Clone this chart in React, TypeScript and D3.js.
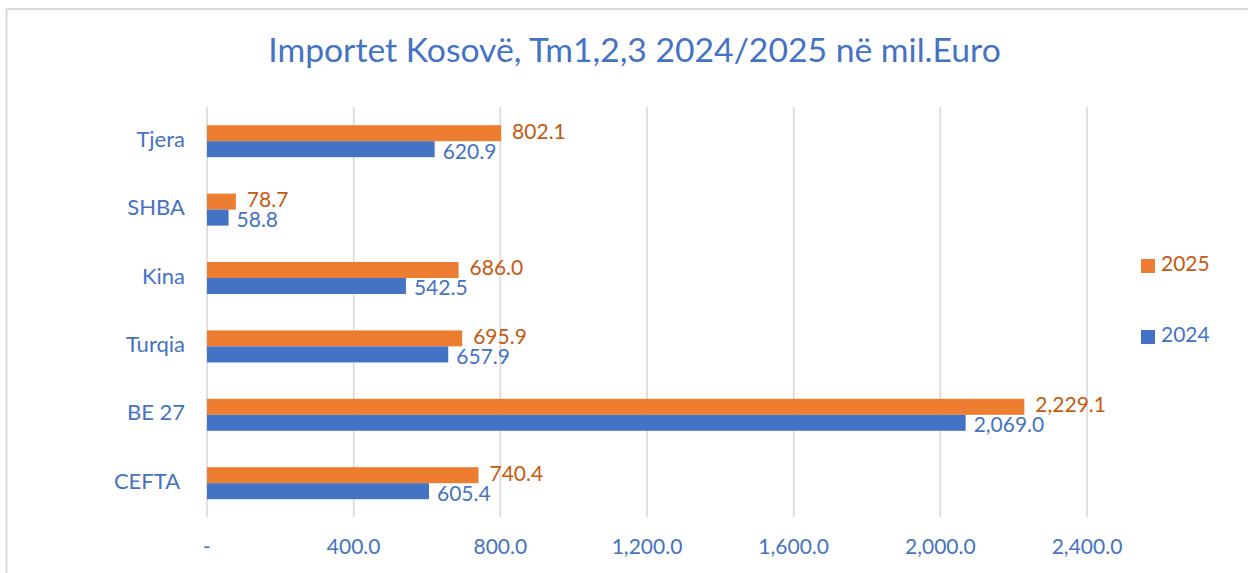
import React from "react";
import * as d3 from "d3";

const categories = ["Tjera", "SHBA", "Kina", "Turqia", "BE 27", "CEFTA "];
const values2025 = [802.1, 78.7, 686.0, 695.9, 2229.1, 740.4];
const values2024 = [620.9, 58.8, 542.5, 657.9, 2069.0, 605.4];
const seriesNames = ["2025", "2024"];
const xTicks = [0, 400, 800, 1200, 1600, 2000, 2400];
const title = "Importet Kosovë, Tm1,2,3 2024/2025 në mil.Euro";

const W = 1248;
const H = 573;
const BLUE = "#4472C4";
const ORANGE = "#ED7D31";
const ORANGE_TXT = "#C55A11";
const GRID = "#D9D9D9";
const FONT = "Lato, 'Open Sans', sans-serif";

export default function App() {
  const x = d3.scaleLinear().domain([0, 2400]).range([207, 1087]);
  const y = d3.scaleBand<string>().domain(categories).range([107, 517.4]);
  const sub = d3.scaleBand<string>().domain(seriesNames).range([0, 32]);
  const fmt = d3.format(",.1f");
  const tickFmt = (v: number) => (v === 0 ? "-" : fmt(v));
  const series = [
    { name: "2025", values: values2025, fill: ORANGE, txt: ORANGE_TXT, dx: 11, dy: 0 },
    { name: "2024", values: values2024, fill: BLUE, txt: BLUE, dx: 8, dy: 4 },
  ];
  const groupOffset = (y.bandwidth() - 32) / 2;

  return (
    <svg
      width={W}
      height={H}
      style={{ position: "absolute", left: 0, top: 0, background: "#fff" }}
      fontFamily={FONT}
    >
      <rect x={0} y={0} width={W} height={H} fill="#fff" />
      <rect x={6.5} y={9} width={W + 20} height={H + 20} fill="none" stroke={GRID} strokeWidth={2} />
      <text x={634.5} y={62} textAnchor="middle" fill={BLUE} fontSize={33.7}>
        {title}
      </text>
      {xTicks.map((t) => (
        <line key={t} x1={x(t)} x2={x(t)} y1={107} y2={517} stroke={GRID} strokeWidth={1.6} />
      ))}
      {xTicks.map((t) => (
        <text key={"l" + t} x={x(t)} y={549} textAnchor="middle" dominantBaseline="middle" fill={BLUE} fontSize={21}>
          {tickFmt(t)}
        </text>
      ))}
      {categories.map((c) => (
        <text
          key={c}
          x={185}
          y={(y(c) as number) + y.bandwidth() / 2}
          textAnchor="end"
          dominantBaseline="middle"
          fill={BLUE}
          fontSize={22}
          style={{ whiteSpace: "pre" }}
        >
          {c}
        </text>
      ))}
      {series.map((s) =>
        categories.map((c, i) => {
          const by = (y(c) as number) + groupOffset + (sub(s.name) as number);
          return (
            <g key={s.name + c}>
              <rect x={x(0)} y={by} width={x(s.values[i]) - x(0)} height={sub.bandwidth()} fill={s.fill} />
              <text
                x={x(s.values[i]) + s.dx}
                y={by + sub.bandwidth() / 2 + s.dy}
                dominantBaseline="middle"
                fill={s.txt}
                fontSize={21}
              >
                {fmt(s.values[i])}
              </text>
            </g>
          );
        })
      )}
      {series.map((s, i) => {
        const ly = i === 0 ? 266 : 337;
        return (
          <g key={"lg" + s.name}>
            <rect x={1141} y={ly - 7} width={14} height={14} fill={s.fill} />
            <text x={1161} y={ly} dominantBaseline="middle" fill={s.txt} fontSize={21}>
              {s.name}
            </text>
          </g>
        );
      })}
    </svg>
  );
}
